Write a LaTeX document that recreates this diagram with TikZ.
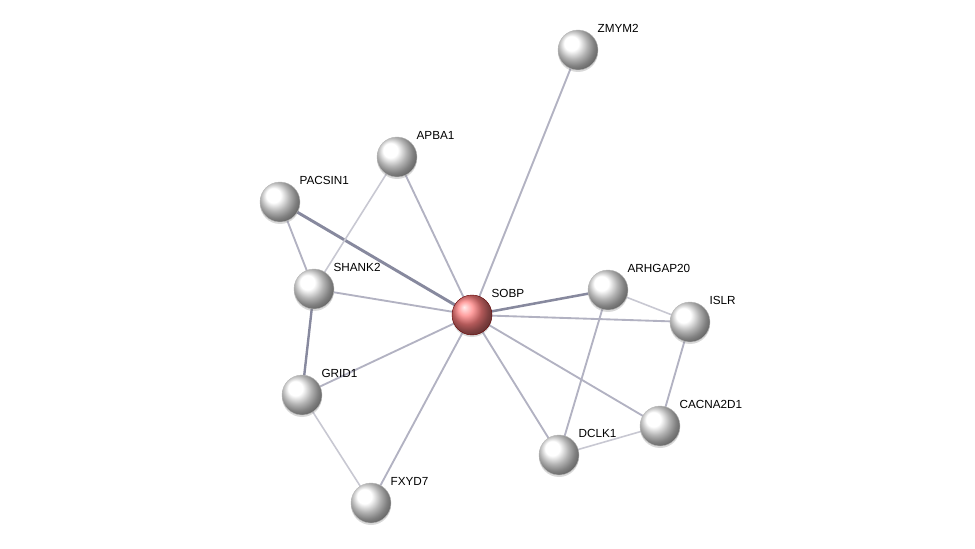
\documentclass[tikz,border=0pt]{standalone}
\usepackage{fontspec}
\setmainfont{Liberation Sans}
\usetikzlibrary{shadows,calc,backgrounds}
\definecolor{edgemid}{RGB}{178,178,194}
\definecolor{edgelight}{RGB}{200,200,210}
\definecolor{edgedark}{RGB}{135,137,158}

\begin{document}
\begin{tikzpicture}[
  x=0.75pt, y=-0.75pt,
  font=\fontsize{8.8}{10}\selectfont,
  gene/.style={circle, minimum size=30pt, inner sep=0pt,
               ball color=white, draw=gray!55, line width=0.3pt,
               drop shadow={shadow xshift=0pt, shadow yshift=-1.5pt, opacity=0.3}},
  query/.style={gene, ball color=red!50!white, draw=red!40!black},
  tag/.style={anchor=west, inner sep=1pt},
  link/.style={draw=edgemid, line width=1.4pt},
  weak/.style={draw=edgelight, line width=1.2pt},
  strong/.style={draw=edgedark, line width=2.2pt}
]
\useasboundingbox (0,0) rectangle (975,549);

% proteins
\node[gene] (ZMYM2) at (578,50) {};
\node[gene] (APBA1) at (397,157) {};
\node[gene] (PACSIN1) at (280,202) {};
\node[gene] (SHANK2) at (314,289) {};
\node[query] (SOBP) at (472,315) {};
\node[gene] (ARHGAP20) at (608,290) {};
\node[gene] (ISLR) at (690,322) {};
\node[gene] (GRID1) at (302,395) {};
\node[gene] (CACNA2D1) at (660,426) {};
\node[gene] (DCLK1) at (559,455) {};
\node[gene] (FXYD7) at (371,503) {};

% labels
\foreach \g in {ZMYM2,APBA1,PACSIN1,SHANK2,SOBP,ARHGAP20,ISLR,GRID1,CACNA2D1,DCLK1,FXYD7}
  \node[tag] (l\g) at ($(\g.center)+(18,-22)$) {\g};

% interactions
\begin{scope}[on background layer]
\draw[link] (SOBP.center) -- (ZMYM2.center);
\draw[link] (SOBP.center) -- (APBA1.center);
\draw[strong] (SOBP.center) -- (PACSIN1.center);
\draw[link] (SOBP.center) -- (SHANK2.center);
\draw[link] (SOBP.center) -- (GRID1.center);
\draw[link] (SOBP.center) -- (FXYD7.center);
\draw[link] (SOBP.center) -- (DCLK1.center);
\draw[link] (SOBP.center) -- (CACNA2D1.center);
\draw[link] (SOBP.center) -- (ISLR.center);
\draw[strong, line width=1.9pt] (SOBP.center) -- (ARHGAP20.center);
\draw[weak] (APBA1.center) -- (SHANK2.center);
\draw[link] (PACSIN1.center) -- (SHANK2.center);
\draw[strong, line width=1.8pt] (SHANK2.center) -- (GRID1.center);
\draw[weak] (GRID1.center) -- (FXYD7.center);
\draw[weak] (ARHGAP20.center) -- (ISLR.center);
\draw[link] (ARHGAP20.center) -- (DCLK1.center);
\draw[link] (ISLR.center) -- (CACNA2D1.center);
\draw[weak] (CACNA2D1.center) -- (DCLK1.center);
\end{scope}
\end{tikzpicture}
\end{document}
